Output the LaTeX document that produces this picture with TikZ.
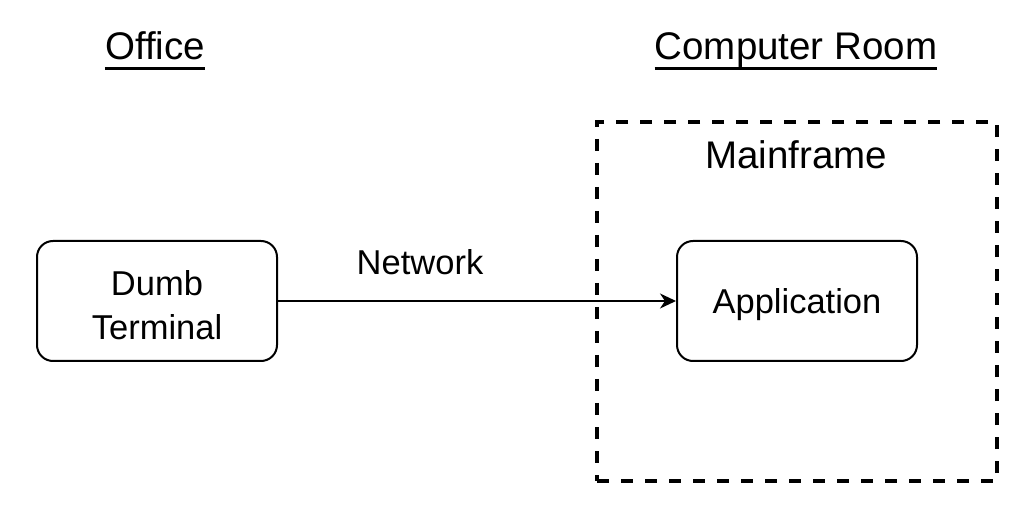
\documentclass[tikz,border=0pt]{standalone}
\usepackage{fontspec}
\setmainfont{Liberation Sans}
\usetikzlibrary{arrows.meta}
\begin{document}
\begin{tikzpicture}[x=1pt,y=-1pt,
  box/.style={draw, line width=2pt, rounded corners=16pt, minimum width=240pt, minimum height=120pt, align=center, inner sep=0pt, font=\fontsize{34.5}{44}\selectfont},
  title/.style={inner sep=0pt, anchor=base, font=\fontsize{38.5}{46}\selectfont},
  label/.style={inner sep=0pt, anchor=base, font=\fontsize{34.5}{44}\selectfont},
  uline/.style={line width=3pt},
  frame/.style={draw, line width=4pt, dash pattern=on 12pt off 12pt, minimum width=400pt, minimum height=359pt, inner sep=0pt},
  conn/.style={line width=2pt, -{Stealth[length=16pt,width=15pt,inset=5pt]}}]
\useasboundingbox (0,0) rectangle (1036,510);
\node[title] (office) at (155,60) {Office};
\node[title] (croom) at (796,60) {Computer Room};
\draw[uline] ([yshift=-8.5pt]office.base west) -- ([yshift=-8.5pt]office.base east);
\draw[uline] ([yshift=-8.5pt]croom.base west) -- ([yshift=-8.5pt]croom.base east);
\node[frame] (mf) at (797,301.5) {};
\node[title] (mftext) at (796,169) {Mainframe};
\node[box] (term) at (157,301) {\raisebox{-7.5pt}[\height][\depth]{\begin{tabular}{@{}c@{}}Dumb\\Terminal\end{tabular}}};
\node[box] (app) at (797,301) {\raisebox{-4pt}[\height][\depth]{Application}};
\node[label] (net) at (420,275) {Network};
\draw[conn] (term.east) -- (app.west);
\end{tikzpicture}
\end{document}
